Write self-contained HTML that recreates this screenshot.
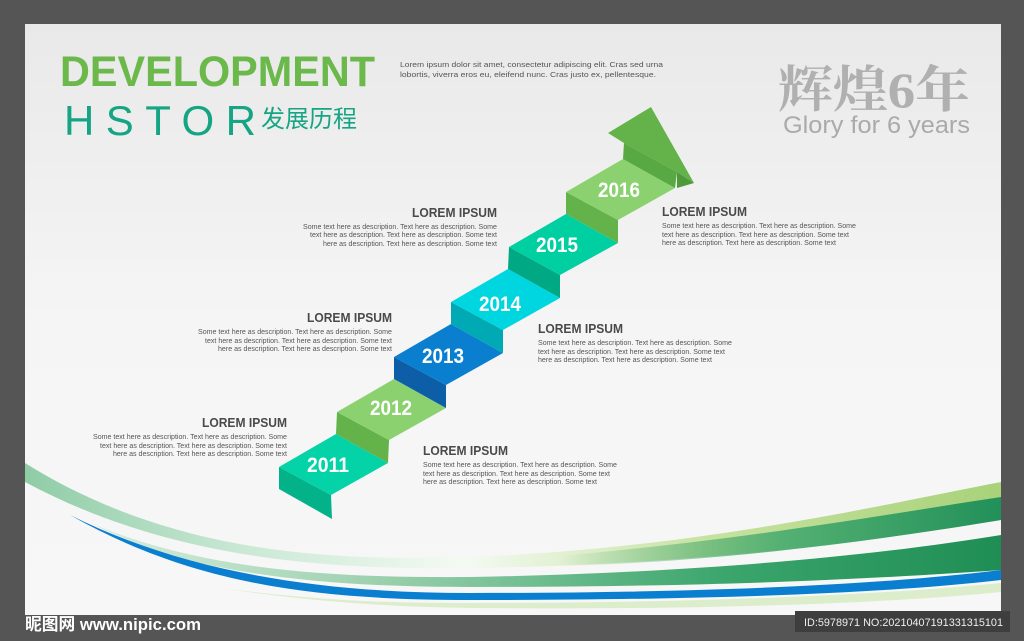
<!DOCTYPE html>
<html><head><meta charset="utf-8"><style>
html,body{margin:0;padding:0;background:#555;}
svg{display:block;}
.t{font-family:"Liberation Sans",sans-serif;font-weight:bold;fill:#4a4a4a;font-size:12.5px;}
.d{font-family:"Liberation Sans",sans-serif;fill:#555;font-size:7px;}
.y{font-family:"Liberation Sans",sans-serif;font-weight:bold;fill:#fff;font-size:21px;text-anchor:middle;}
</style></head><body>
<svg width="1024" height="641" viewBox="0 0 1024 641" xmlns="http://www.w3.org/2000/svg">
<defs>
<linearGradient id="bg" x1="0" y1="0" x2="0" y2="1"><stop offset="0" stop-color="#e9e9e9"/><stop offset="0.5" stop-color="#f5f5f5"/><stop offset="1" stop-color="#f7f7f7"/></linearGradient>
<linearGradient id="ga" x1="0" y1="0" x2="1" y2="0"><stop offset="0" stop-color="#8fcca6"/><stop offset="0.22" stop-color="#c9e8d4"/><stop offset="0.45" stop-color="#f4faf2"/><stop offset="0.7" stop-color="#c6e2a0"/><stop offset="1" stop-color="#a9d27a"/></linearGradient>
<linearGradient id="gd" x1="0" y1="0" x2="1" y2="0"><stop offset="0" stop-color="#2f9a5e" stop-opacity="0"/><stop offset="0.5" stop-color="#3aa56a" stop-opacity="0.8"/><stop offset="1" stop-color="#22905a" stop-opacity="1"/></linearGradient>
<linearGradient id="gc" x1="0" y1="0" x2="1" y2="0"><stop offset="0" stop-color="#d8eedf"/><stop offset="0.3" stop-color="#9fd2b0"/><stop offset="0.7" stop-color="#3aa56c"/><stop offset="1" stop-color="#1f8e55"/></linearGradient>
</defs>
<rect x="0" y="0" width="1024" height="641" fill="#555"/>
<rect x="25" y="24" width="976" height="591" fill="url(#bg)"/>

<!-- bottom waves -->
<path d="M25,463 C180,560 350,560 470,557 C700,548 880,505 1001,482 L1001,520 C880,540 700,565 470,568 C330,570 170,560 25,482 Z" fill="url(#ga)"/>
<path d="M560,556 C760,538 900,512 1001,497 L1001,520 C880,540 720,562 560,566 Z" fill="url(#gd)"/>
<path d="M91,523 C200,570 330,578 470,577 C700,573 880,555 1001,535 L1001,570 C860,580 700,587 470,587 C300,587 180,570 91,523 Z" fill="url(#gc)"/>
<path d="M70,515 C190,575 330,593 470,593 C700,593 880,585 1001,570 L1001,580 C880,594 700,600 470,600 C310,600 190,583 70,515 Z" fill="#0a7fd0"/>
<path d="M220,588 C330,602 400,603 470,603 C700,603 880,595 1001,583 L1001,592 C880,604 700,610 470,608 C380,607 300,600 220,588 Z" fill="#dcedcb"/>

<!-- stairs -->
<polygon points="279,467 331,495 332,519 279,489" fill="#03b289"/>
<polygon points="279,467 336,434 388,463 331,495" fill="#03d3a7"/>
<polygon points="336,434 388,463 389,440 337,412" fill="#63b24a"/>
<polygon points="337,412 394,379 446,408 389,440" fill="#8cd16f"/>
<polygon points="394,379 446,408 446,385 394,357" fill="#0c5fa6"/>
<polygon points="394,357 451,324 503,353 446,385" fill="#0a7fd0"/>
<polygon points="451,324 503,353 503,330 451,302" fill="#00aab4"/>
<polygon points="451,302 508,269 560,298 503,330" fill="#00d6e0"/>
<polygon points="508,269 560,298 560,275 509,247" fill="#00a883"/>
<polygon points="509,247 566,214 618,243 560,275" fill="#00cfa2"/>
<polygon points="566,214 618,243 618,220 566,192" fill="#63b24a"/>
<polygon points="566,192 623,159 675,188 618,220" fill="#8cd16f"/>
<polygon points="623,159 675,188 677,172 624,143" fill="#58a843"/>
<polygon points="608,133 651,107 694,183 677,172 624,143" fill="#63b24a"/>
<polygon points="677,172 694,183 677,188" fill="#4e9a3b"/>

<text class="y" x="328" y="472" textLength="42" lengthAdjust="spacingAndGlyphs">2011</text>
<text class="y" x="391" y="415" textLength="42" lengthAdjust="spacingAndGlyphs">2012</text>
<text class="y" x="443" y="363" textLength="42" lengthAdjust="spacingAndGlyphs">2013</text>
<text class="y" x="500" y="311" textLength="42" lengthAdjust="spacingAndGlyphs">2014</text>
<text class="y" x="557" y="252" textLength="42" lengthAdjust="spacingAndGlyphs">2015</text>
<text class="y" x="619" y="197" textLength="42" lengthAdjust="spacingAndGlyphs">2016</text>

<g text-anchor="end">
<text class="t" x="497" y="217" textLength="85" lengthAdjust="spacingAndGlyphs">LOREM IPSUM</text>
<text class="d" x="497" y="229" textLength="194" lengthAdjust="spacingAndGlyphs">Some text here as description. Text here as description. Some</text>
<text class="d" x="497" y="237" textLength="187" lengthAdjust="spacingAndGlyphs">text here as description. Text here as description. Some text</text>
<text class="d" x="497" y="246" textLength="174" lengthAdjust="spacingAndGlyphs">here as description. Text here as description. Some text</text>
<text class="t" x="392" y="322" textLength="85" lengthAdjust="spacingAndGlyphs">LOREM IPSUM</text>
<text class="d" x="392" y="334" textLength="194" lengthAdjust="spacingAndGlyphs">Some text here as description. Text here as description. Some</text>
<text class="d" x="392" y="343" textLength="187" lengthAdjust="spacingAndGlyphs">text here as description. Text here as description. Some text</text>
<text class="d" x="392" y="351" textLength="174" lengthAdjust="spacingAndGlyphs">here as description. Text here as description. Some text</text>
<text class="t" x="287" y="427" textLength="85" lengthAdjust="spacingAndGlyphs">LOREM IPSUM</text>
<text class="d" x="287" y="439" textLength="194" lengthAdjust="spacingAndGlyphs">Some text here as description. Text here as description. Some</text>
<text class="d" x="287" y="448" textLength="187" lengthAdjust="spacingAndGlyphs">text here as description. Text here as description. Some text</text>
<text class="d" x="287" y="456" textLength="174" lengthAdjust="spacingAndGlyphs">here as description. Text here as description. Some text</text>
</g>
<text class="t" x="662" y="216" textLength="85" lengthAdjust="spacingAndGlyphs">LOREM IPSUM</text>
<text class="d" x="662" y="228" textLength="194" lengthAdjust="spacingAndGlyphs">Some text here as description. Text here as description. Some</text>
<text class="d" x="662" y="237" textLength="187" lengthAdjust="spacingAndGlyphs">text here as description. Text here as description. Some text</text>
<text class="d" x="662" y="245" textLength="174" lengthAdjust="spacingAndGlyphs">here as description. Text here as description. Some text</text>
<text class="t" x="538" y="333" textLength="85" lengthAdjust="spacingAndGlyphs">LOREM IPSUM</text>
<text class="d" x="538" y="345" textLength="194" lengthAdjust="spacingAndGlyphs">Some text here as description. Text here as description. Some</text>
<text class="d" x="538" y="354" textLength="187" lengthAdjust="spacingAndGlyphs">text here as description. Text here as description. Some text</text>
<text class="d" x="538" y="362" textLength="174" lengthAdjust="spacingAndGlyphs">here as description. Text here as description. Some text</text>
<text class="t" x="423" y="455" textLength="85" lengthAdjust="spacingAndGlyphs">LOREM IPSUM</text>
<text class="d" x="423" y="467" textLength="194" lengthAdjust="spacingAndGlyphs">Some text here as description. Text here as description. Some</text>
<text class="d" x="423" y="476" textLength="187" lengthAdjust="spacingAndGlyphs">text here as description. Text here as description. Some text</text>
<text class="d" x="423" y="484" textLength="174" lengthAdjust="spacingAndGlyphs">here as description. Text here as description. Some text</text>

<text x="60" y="86" font-family="Liberation Sans, sans-serif" font-weight="bold" font-size="43" fill="#6bb84b" textLength="315" lengthAdjust="spacingAndGlyphs">DEVELOPMENT</text>
<text x="64" y="135" font-family="Liberation Sans, sans-serif" font-size="42" fill="#16a584" textLength="192" lengthAdjust="spacing">HSTOR</text>
<text x="261" y="127" font-family="Liberation Sans, Noto Sans CJK SC, sans-serif" font-size="24" fill="#16a584" textLength="96" lengthAdjust="spacingAndGlyphs">发展历程</text>
<text x="400" y="67" class="d" style="font-size:7.5px" textLength="263" lengthAdjust="spacingAndGlyphs">Lorem ipsum dolor sit amet, consectetur adipiscing elit. Cras sed urna</text>
<text x="400" y="77" class="d" style="font-size:7.5px" textLength="256" lengthAdjust="spacingAndGlyphs">lobortis, viverra eros eu, eleifend nunc. Cras justo ex, pellentesque.</text>
<text x="778" y="107" font-family="Liberation Serif, Noto Serif CJK SC, serif" font-weight="bold" font-size="50" fill="#b0b0b0" textLength="192" lengthAdjust="spacingAndGlyphs">辉煌6年</text>
<text x="783" y="133" font-family="Liberation Sans, sans-serif" font-size="24" fill="#aaaaaa" textLength="187" lengthAdjust="spacingAndGlyphs">Glory for 6 years</text>

<text x="25" y="630" font-family="Liberation Sans, Noto Sans CJK SC, sans-serif" font-weight="bold" font-size="17" fill="#fff" textLength="176" lengthAdjust="spacingAndGlyphs">昵图网 www.nipic.com</text>
<rect x="795" y="611" width="215" height="21" fill="#3e3e3e"/>
<text x="804" y="626" font-family="Liberation Sans, sans-serif" font-size="11" fill="#eee" textLength="199" lengthAdjust="spacingAndGlyphs">ID:5978971 NO:20210407191331315101</text>
</svg>
</body></html>
